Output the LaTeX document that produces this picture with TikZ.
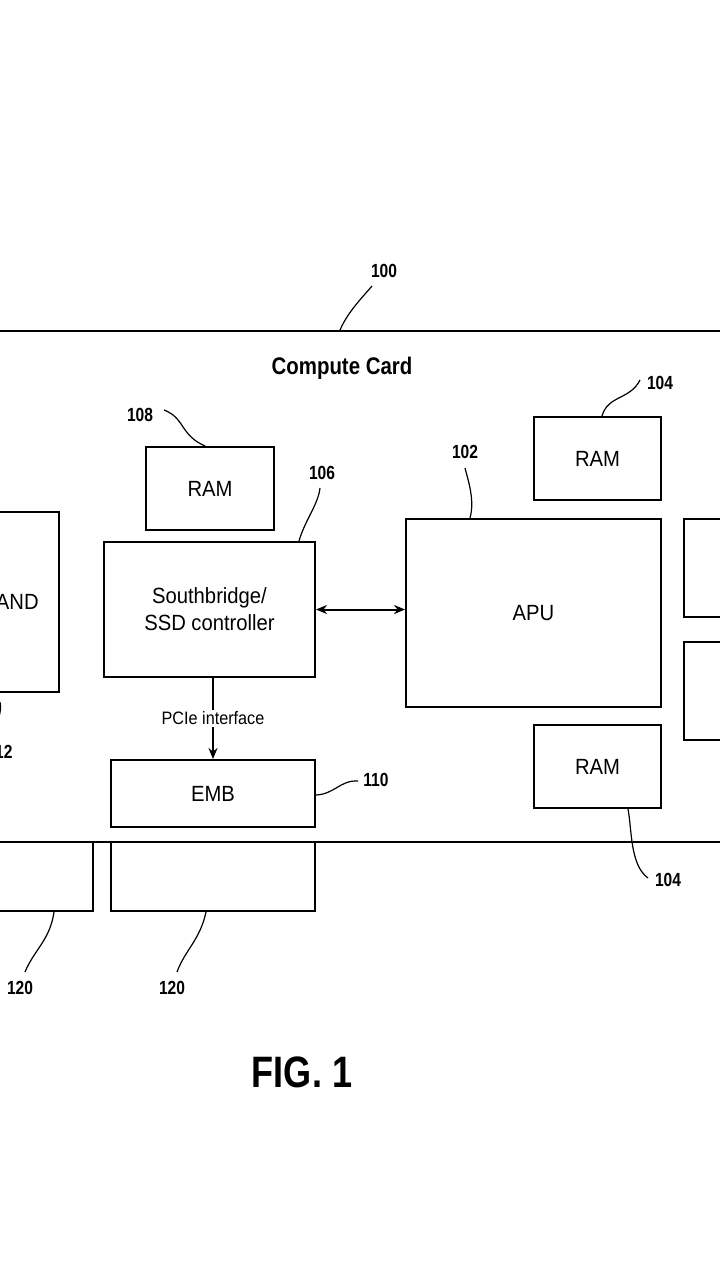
\documentclass[tikz,border=0pt]{standalone}
\usepackage{fontspec}
\setmainfont{Liberation Sans}
\usetikzlibrary{positioning,arrows.meta}
\tikzset{every picture/.style={line width=2pt}}
\tikzset{
  blk/.style={draw, rectangle, inner sep=0pt, align=center, font=\fontsize{22}{27}\selectfont\addfontfeature{FakeStretch=0.92}},
  lbl/.style={font=\bfseries\fontsize{19}{21}\selectfont\addfontfeature{FakeStretch=0.82}},
  ldr/.style={line width=1.2pt}
}

\begin{document}
\begin{tikzpicture}[x=1pt,y=-1pt]
		\useasboundingbox (0,0) rectangle (720,1280);
		\clip (0,0) rectangle (720,1280);
		
		%Compute card outline
		\draw (-10,331) -- (730,331) ;
		\draw (-10,842) -- (730,842) ;
		\node[font=\bfseries\fontsize{24}{26}\selectfont\addfontfeature{FakeStretch=0.85}] (title) at (342,368) {Compute Card};
		\node[lbl] (n100) at (384,271) {100};
		\draw[ldr] (340,330) .. controls (348,312) and (360,300) .. (372,286) ;
		
		%Boxes
		\node[blk, minimum width=128, minimum height=83] (ram108) at (210,488.5) {RAM};
		\node[blk, minimum width=211, minimum height=135] (sb) at (209.5,609.5) {Southbridge/\\SSD controller};
		\node[blk, minimum width=204, minimum height=67] (emb) at (213,793.5) {EMB};
		\node[blk, minimum width=100, minimum height=180] (nand) at (9,602) {\hspace*{2pt}NAND};
		\node[blk, minimum width=255, minimum height=188] (apu) at (533.5,613) {APU};
		\node[blk, minimum width=127, minimum height=83] (ramT) at (597.5,458.5) {RAM};
		\node[blk, minimum width=127, minimum height=83] (ramB) at (597.5,766.5) {RAM};
		\node[blk, minimum width=60, minimum height=98] (rA) at (714,568) {};
		\node[blk, minimum width=60, minimum height=98] (rB) at (714,691) {};
		\node[blk, minimum width=113, minimum height=69] (edgeA) at (36.5,876.5) {};
		\node[blk, minimum width=204, minimum height=69] (edgeB) at (213,876.5) {};
		
		%Connectors
		\draw[{Stealth[length=11pt,width=9pt]}-{Stealth[length=11pt,width=9pt]}] (sb.east) -- (apu.west |- sb.east) ;
		\draw[-{Stealth[length=11pt,width=9pt]}] (sb.south -| emb.north) -- (emb.north) node[midway, fill=white, font=\fontsize{18}{20}\selectfont\addfontfeature{FakeStretch=0.9}, inner sep=2pt] {PCIe interface} ;
		
		%Reference labels
		\node[lbl] (n108) at (140,415) {108};
		\draw[ldr] (164,410) .. controls (185,418) and (180,435) .. (205,446) ;
		\node[lbl] (n106) at (322,473) {106};
		\draw[ldr] (299,541) .. controls (305,520) and (318,505) .. (320,488) ;
		\node[lbl] (n102) at (465,452) {102};
		\draw[ldr] (470,518) .. controls (475,500) and (468,480) .. (465,468) ;
		\node[lbl] (n104a) at (660,383) {104};
		\draw[ldr] (602,416) .. controls (608,395) and (630,400) .. (640,380) ;
		\node[lbl] (n104b) at (668,880) {104};
		\draw[ldr] (628,809) .. controls (632,830) and (630,865) .. (648,878) ;
		\node[lbl] (n110) at (376,780) {110};
		\draw[ldr] (316,795) .. controls (335,794) and (340,780) .. (358,781) ;
		\node[lbl] (n112) at (0,752) {112};
		\draw[ldr] (0,702) .. controls (2,712) and (-2,720) .. (-8,735) ;
		\node[lbl] (n120a) at (20,988) {120};
		\draw[ldr] (54,912) .. controls (50,940) and (34,950) .. (25,972) ;
		\node[lbl] (n120b) at (172,988) {120};
		\draw[ldr] (206,912) .. controls (200,940) and (185,950) .. (177,972) ;
		
		\node[font=\bfseries\fontsize{44}{46}\selectfont\addfontfeature{FakeStretch=0.82}] (fig) at (302,1072) {FIG. 1};
\end{tikzpicture}
\end{document}
